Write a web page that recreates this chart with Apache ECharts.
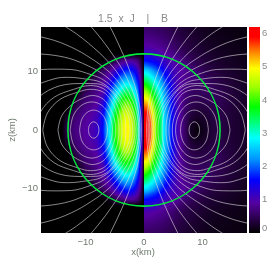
<!DOCTYPE html>
<html><head><meta charset="utf-8">
<style>html,body{margin:0;padding:0;background:#fff}#c{width:274px;height:274px;filter:blur(.4px)}</style>
<script src="https://cdn.jsdelivr.net/npm/echarts@6/dist/echarts.min.js"></script>
</head><body><div id="c"></div>
<script>
const titleText = '1.5  x  J    |    B';
const xAxisName = 'x(km)';
const zAxisName = 'z(km)';
const positionTicks = [-10, 0, 10];
const colourTicks = [0, 1, 2, 3, 4, 5, 6];
const starRadius = [13];
const xNodes = [0,.5,1,1.5,2,2.5,3,3.5,4,5,6,7,8,9,10,11,12,13,14,16,17.6];
const zNodes = [0,1,2,3,4,5,6,7,8,9,10,11,12,13,14,16,17.7];
// right half: |B|
const fieldB = [
[6.2,6.2,5.8,5.0,4.2,3.7,3.15,2.75,2.3,1.45,.95,.55,.2,.05,.15,.26,.34,.4,.34,.27,.22],
[6.2,6.15,5.75,5.0,4.2,3.7,3.15,2.75,2.3,1.45,.95,.55,.22,.12,.18,.27,.35,.4,.34,.27,.22],
[6.1,6.0,5.6,4.9,4.15,3.65,3.15,2.7,2.3,1.45,.95,.56,.3,.22,.24,.3,.37,.42,.35,.27,.22],
[5.9,5.8,5.4,4.75,4.05,3.6,3.1,2.65,2.25,1.45,.95,.58,.38,.3,.32,.35,.4,.43,.36,.28,.22],
[5.6,5.5,5.1,4.5,3.9,3.5,3.0,2.6,2.2,1.45,.95,.62,.44,.38,.38,.4,.44,.46,.38,.28,.23],
[5.2,5.1,4.75,4.2,3.7,3.3,2.9,2.5,2.15,1.4,.95,.66,.48,.44,.44,.46,.48,.48,.4,.29,.23],
[4.75,4.6,4.3,3.85,3.45,3.1,2.75,2.4,2.05,1.35,.95,.7,.54,.5,.5,.5,.52,.47,.4,.29,.23],
[4.25,4.1,3.8,3.5,3.15,2.85,2.55,2.25,1.95,1.3,.95,.74,.6,.56,.55,.55,.5,.44,.38,.28,.22],
[3.7,3.6,3.35,3.1,2.85,2.55,2.3,2.05,1.8,1.25,.95,.78,.66,.62,.6,.56,.46,.4,.35,.26,.21],
[3.2,3.1,2.95,2.75,2.5,2.25,2.05,1.8,1.6,1.15,.95,.82,.72,.68,.58,.48,.42,.36,.32,.24,.19],
[2.7,2.65,2.5,2.3,2.1,1.9,1.75,1.55,1.4,1.1,.95,.85,.76,.62,.5,.42,.37,.32,.28,.22,.18],
[2.1,2.05,1.95,1.85,1.75,1.6,1.45,1.3,1.2,1.0,.95,.8,.6,.5,.42,.37,.32,.28,.25,.19,.16],
[1.6,1.55,1.5,1.45,1.4,1.3,1.2,1.15,1.05,.95,.78,.62,.5,.42,.36,.31,.27,.24,.22,.17,.14],
[1.25,1.2,1.2,1.15,1.1,1.05,.98,.92,.88,.76,.62,.5,.42,.36,.31,.27,.23,.21,.18,.15,.13],
[.98,.96,.95,.93,.9,.86,.82,.78,.74,.62,.5,.42,.36,.31,.26,.23,.2,.18,.16,.13,.11],
[.72,.71,.7,.68,.66,.64,.62,.6,.56,.48,.4,.34,.29,.25,.21,.18,.16,.14,.13,.1,.09],
[.56,.55,.54,.53,.52,.5,.49,.47,.45,.38,.33,.28,.24,.21,.18,.15,.14,.12,.11,.09,.08]
];
// left half: 1.5 x J
const fieldJ = [
[0,1.6,3.3,4.2,4.7,4.95,5.0,4.9,4.6,3.85,2.75,1.65,1.15,1.0,.9,.8,.7,.5,0,0,0],
[0,1.55,3.25,4.2,4.65,4.9,4.95,4.85,4.55,3.8,2.7,1.6,1.12,.98,.88,.78,.68,.45,0,0,0],
[0,1.5,3.15,4.05,4.55,4.8,4.85,4.75,4.45,3.7,2.6,1.55,1.08,.94,.84,.74,.62,.3,0,0,0],
[0,1.45,3.0,3.9,4.35,4.6,4.65,4.55,4.3,3.5,2.5,1.45,1.02,.88,.78,.68,.5,.1,0,0,0],
[0,1.35,2.8,3.65,4.1,4.35,4.4,4.3,4.05,3.3,2.3,1.35,.95,.82,.72,.6,.35,0,0,0,0],
[0,1.25,2.55,3.35,3.8,4.0,4.05,4.0,3.75,3.05,2.05,1.2,.88,.75,.65,.48,.2,0,0,0,0],
[0,1.15,2.3,3.0,3.4,3.6,3.65,3.55,3.35,2.7,1.8,1.05,.8,.68,.55,.3,.05,0,0,0,0],
[0,1.0,2.0,2.6,3.0,3.2,3.2,3.1,2.9,2.3,1.5,.95,.72,.58,.4,.12,0,0,0,0,0],
[0,.9,1.7,2.2,2.55,2.7,2.75,2.65,2.45,1.9,1.25,.85,.62,.45,.2,0,0,0,0,0,0],
[0,.75,1.4,1.85,2.1,2.25,2.25,2.15,2.0,1.5,1.0,.72,.48,.25,.03,0,0,0,0,0,0],
[0,.6,1.15,1.5,1.7,1.8,1.8,1.7,1.55,1.15,.8,.55,.3,.05,0,0,0,0,0,0,0],
[0,.45,.9,1.15,1.3,1.35,1.3,1.25,1.1,.85,.55,.25,.03,0,0,0,0,0,0,0,0],
[0,.3,.6,.75,.8,.8,.75,.68,.6,.35,.1,0,0,0,0,0,0,0,0,0,0],
[0,0,0,0,0,0,0,0,0,0,0,0,0,0,0,0,0,0,0,0,0],
[0,0,0,0,0,0,0,0,0,0,0,0,0,0,0,0,0,0,0,0,0],
[0,0,0,0,0,0,0,0,0,0,0,0,0,0,0,0,0,0,0,0,0],
[0,0,0,0,0,0,0,0,0,0,0,0,0,0,0,0,0,0,0,0,0]
];
// field lines, one quadrant each, inner crossing to far end
const fieldLines = [
[[7.7,0],[7.82,.7],[8.15,1.21],[8.6,1.4],[9.05,1.21],[9.38,.7],[9.5,0]],
[[6.25,0],[6.56,1.7],[7.42,2.94],[8.6,3.4],[9.8,2.94],[10.68,1.7],[11,0]],
[[5.4,0],[5.87,2.4],[7.15,4.16],[8.9,4.8],[10.75,4.16],[12.1,2.4],[12.6,0]],
[[4.83,0],[5.1,2.0],[5.9,3.9],[7,5.3],[8.8,5.9],[10.5,5.4],[12.2,4.44],[14.04,2.47],[14.7,0]],
[[4.26,0],[4.35,1.3],[4.7,3],[5.6,5],[7,6.5],[9.2,6.95],[11.2,6.5],[14.36,5.22],[16.5,2.9],[17.3,0]],
[[3.75,0],[3.85,1.5],[4.3,3.5],[5.3,5.5],[7,7.1],[9.2,7.6],[12.03,6.94],[15.36,5.59],[17.67,3.1],[18.5,0]],
[[3.1,0],[3.4,2.8],[4.4,5],[6,7],[8,7.9],[10.3,7.94],[13.46,7.76],[17.18,6.25],[19.8,3.48]],
[[2.4,0],[2.7,2.4],[3.8,4.6],[5.5,6.8],[7.5,8.2],[9.69,8.67],[12.9,9.0],[15.2,8.78],[19.4,7.07],[22.35,3.93]],
[[1.9,0],[2.3,2.4],[3.3,4.6],[5,6.9],[7,8.6],[8.95,9.42],[12.33,10.33],[15,10.4],[17.8,10.3],[22.7,8.27]],
[[1.5,0],[1.9,2.5],[2.9,4.8],[4.5,7.2],[6.4,9.1],[8.06,10.2],[9,10.7],[12,12],[15.2,12.74],[18.6,13],[22,12.7]],
[[1.2,0],[1.55,2.5],[2.4,4.9],[3.9,7.5],[5.6,9.6],[7.12,10.87],[8.18,11.67],[11.5,13.7],[15.3,15.3],[19.5,16.3]],
[[.9,0],[1.15,2.5],[1.9,5],[3.2,7.6],[4.7,10],[6,11.53],[7.63,13.2],[11.5,16.4],[16.2,19.3]],
[[.7,0],[.85,2.5],[1.4,5],[2.3,7.5],[3.5,10],[4.8,12.08],[7.17,15.4],[9.8,18.5],[11.9,20.6]],
[[.45,0],[.55,2.5],[.9,5],[1.55,7.5],[2.4,10],[3.4,12.55],[5.6,17.26],[7.6,20.9]]
];
const colourStops = [[0,[0,0,0]],[.4,[40,0,70]],[.9,[85,0,160]],[1.6,[0,0,255]],[2.2,[0,144,255]],[2.85,[0,255,255]],[3.3,[0,255,128]],[3.8,[0,255,0]],[4.4,[160,255,0]],[4.95,[255,255,0]],[5.4,[255,144,0]],[5.9,[255,0,0]],[6.2,[255,0,0]]];
const maxColour = 6.2;

function colourOf(v){
  for(let i=1;i<colourStops.length;i++){
    if(v<=colourStops[i][0]){
      const [a,ca]=colourStops[i-1],[b,cb]=colourStops[i],t=(v-a)/(b-a);
      return 'rgb('+ca.map((c,k)=>Math.round(c+(cb[k]-c)*t)).join(',')+')';
    }
  }
  return 'rgb(255,0,0)';
}
const cells=[];
[[-1,fieldJ],[1,fieldB]].forEach(([side,table])=>{
  [1,-1].forEach(mirror=>{
    for(let r=0;r<zNodes.length-1;r++)for(let c=0;c<xNodes.length-1;c++){
      cells.push([side*xNodes[c],side*xNodes[c+1],mirror*zNodes[r],mirror*zNodes[r+1],table[r][c],table[r][c+1],table[r+1][c],table[r+1][c+1]]);
    }
  });
});
function renderCell(params,api){
  const x0=api.value(0),x1=api.value(1),z0=api.value(2),z1=api.value(3);
  const a=api.coord([x0,z0]),b=api.coord([x1,z1]);
  const left=Math.round(Math.min(a[0],b[0])),right=Math.round(Math.max(a[0],b[0]));
  const ya=Math.round(a[1]),yb=Math.round(b[1]);
  const top=Math.min(ya,yb),bot=Math.max(ya,yb);
  const flip=a[0]>b[0];
  const v00=api.value(4),v10=api.value(5),v01=api.value(6),v11=api.value(7);
  const children=[];
  if(right>left&&bot>top)for(let y=top;y<bot;y++){
    const t=Math.abs((y+.5-ya)/(yb-ya));
    const near=v00+(v01-v00)*t,far=v10+(v11-v10)*t;
    const l=flip?far:near,rr=flip?near:far;
    const stops=[];
    for(let k=0;k<=4;k++)stops.push({offset:k/4,color:colourOf(l+(rr-l)*k/4)});
    children.push({type:'rect',shape:{x:left,y:y,width:right-left,height:1},style:{fill:new echarts.graphic.LinearGradient(0,0,1,0,stops)},silent:true});
  }
  return {type:'group',children};
}
function fullPath(q){
  const lower=q.slice(1).reverse().map(p=>[p[0],-p[1]]);
  return lower.concat(q);
}
const lineStyle={color:'rgba(225,225,225,.6)',width:1};
const lineSeries=[];
fieldLines.forEach(q=>{
  [1,-1].forEach(side=>{
    lineSeries.push({type:'line',xAxisIndex:0,yAxisIndex:0,data:fullPath(q).map(p=>[side*p[0],p[1]]),symbol:'none',smooth:.35,lineStyle,silent:true,z:4});
  });
});
const fine=[];for(let i=-34;i<=34;i++)fine.push(i/2);
const axisText={color:'#6f7a6f',fontSize:9.5,fontFamily:'Liberation Sans'};
const tick={show:true,inside:true,length:2,customValues:fine,lineStyle:{color:'#0c5a0c',width:1}};
const minus=v=>String(v).replace('-','\u2212');
const nameStyle=t=>({text:t,fill:'#6f7a6f',fontSize:9.5,fontFamily:'Liberation Sans',align:'center',verticalAlign:'middle'});
const chart=echarts.init(document.getElementById('c'),null,{renderer:'canvas',width:274,height:274});
chart.setOption({
  animation:false,backgroundColor:'#fff',
  title:{text:titleText,left:128,top:9,textAlign:'center',textStyle:{color:'#8a8a8a',fontSize:10.5,fontWeight:'normal',fontFamily:'Liberation Sans'}},
  graphic:[
    {type:'text',x:143,y:252,silent:true,style:nameStyle(xAxisName)},
    {type:'text',x:12,y:130,rotation:Math.PI/2,silent:true,style:nameStyle(zAxisName)}
  ],
  grid:[{left:41,top:27,width:206,height:206,backgroundColor:'#000',show:true,borderWidth:0,outerBoundsMode:'none'},{left:249,top:27,width:11,height:206,outerBoundsMode:'none'}],
  xAxis:[
    {type:'value',gridIndex:0,min:-17.6,max:17.6,position:'bottom',axisLine:{show:false},splitLine:{show:false},axisTick:tick,axisLabel:{...axisText,customValues:positionTicks,margin:4,formatter:minus}},
    {type:'value',gridIndex:0,min:-17.6,max:17.6,position:'top',axisLine:{show:false},splitLine:{show:false},axisTick:tick,axisLabel:{show:false}},
    {type:'category',gridIndex:1,data:['scale'],axisLine:{show:false},axisTick:{show:false},axisLabel:{show:false}}
  ],
  yAxis:[
    {type:'value',gridIndex:0,min:-17.6,max:17.6,position:'left',axisLine:{show:false},splitLine:{show:false},axisTick:tick,axisLabel:{...axisText,customValues:positionTicks,margin:3,formatter:minus}},
    {type:'value',gridIndex:0,min:-17.6,max:17.6,position:'right',axisLine:{show:false},splitLine:{show:false},axisTick:tick,axisLabel:{show:false}},
    {type:'value',gridIndex:1,min:0,max:maxColour,position:'right',axisLine:{show:false},splitLine:{show:false},axisTick:{show:false},axisLabel:{...axisText,color:'#8a8a8a',customValues:colourTicks,margin:2,verticalAlignMinLabel:'bottom'}}
  ],
  series:[
    {type:'custom',xAxisIndex:0,yAxisIndex:0,coordinateSystem:'cartesian2d',data:cells,renderItem:renderCell,clip:true,silent:true,z:2,encode:{x:[0,1],y:[2,3]},progressive:0},
    ...lineSeries,
    {type:'custom',xAxisIndex:0,yAxisIndex:0,coordinateSystem:'cartesian2d',data:[[0,0,starRadius[0]]],silent:true,z:6,clip:false,encode:{x:0,y:1},
     renderItem:(p,api)=>{const c=api.coord([api.value(0),api.value(1)]),r=api.size([api.value(2),0])[0];
       return {type:'circle',shape:{cx:c[0],cy:c[1],r:r},style:{fill:'none',stroke:'#00e83c',lineWidth:1.6},silent:true};}},
    {type:'bar',xAxisIndex:2,yAxisIndex:2,data:[maxColour],barWidth:'100%',silent:true,
     itemStyle:{color:new echarts.graphic.LinearGradient(0,1,0,0,colourStops.map(s=>({offset:s[0]/maxColour,color:'rgb('+s[1].join(',')+')'})))}}
  ]
});
</script></body></html>
